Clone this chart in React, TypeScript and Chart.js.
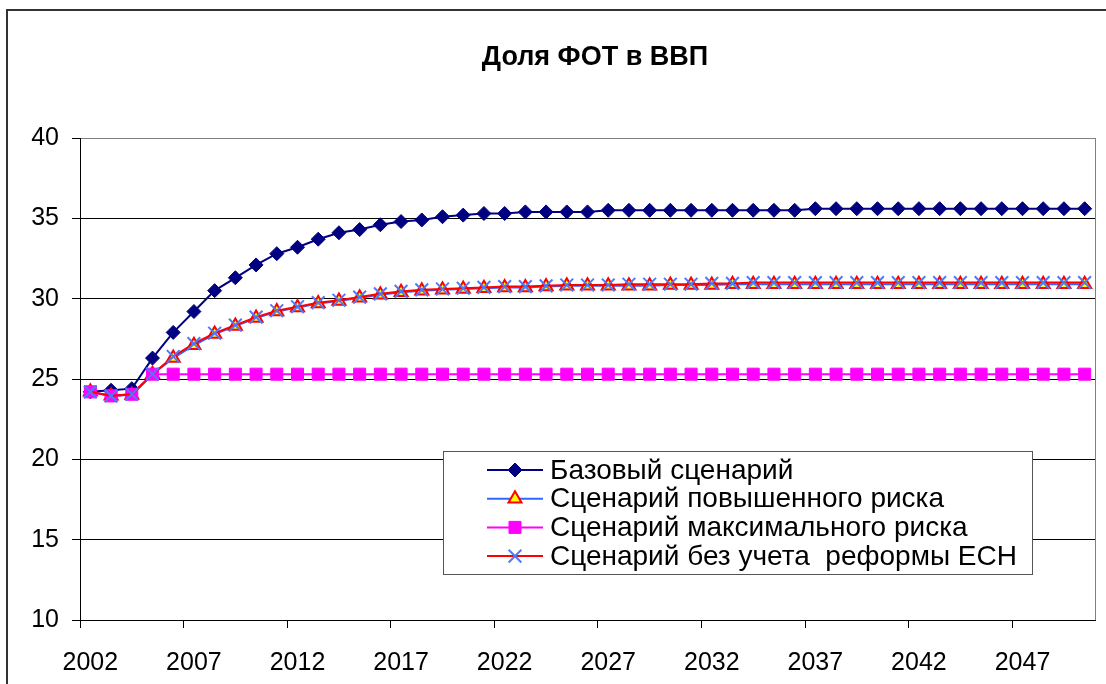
import React, { useEffect, useRef } from "react";
import { Chart, registerables } from "chart.js";

Chart.register(...registerables);

const TITLE = "Доля ФОТ в ВВП";

const YEARS = [
  "2002", "2003", "2004", "2005", "2006", "2007", "2008", "2009", "2010", "2011",
  "2012", "2013", "2014", "2015", "2016", "2017", "2018", "2019", "2020", "2021",
  "2022", "2023", "2024", "2025", "2026", "2027", "2028", "2029", "2030", "2031",
  "2032", "2033", "2034", "2035", "2036", "2037", "2038", "2039", "2040", "2041",
  "2042", "2043", "2044", "2045", "2046", "2047", "2048", "2049", "2050",
];

const SERIES_NAMES = [
  "Базовый сценарий",
  "Сценарий повышенного риска",
  "Сценарий максимального риска",
  "Сценарий без учета  реформы ЕСН",
];

const BASE = [
  24.2, 24.3, 24.4, 26.3, 27.9, 29.2, 30.5, 31.3, 32.1, 32.8,
  33.2, 33.7, 34.1, 34.3, 34.6, 34.8, 34.9, 35.1, 35.2, 35.3,
  35.3, 35.4, 35.4, 35.4, 35.4, 35.5, 35.5, 35.5, 35.5, 35.5,
  35.5, 35.5, 35.5, 35.5, 35.5, 35.6, 35.6, 35.6, 35.6, 35.6,
  35.6, 35.6, 35.6, 35.6, 35.6, 35.6, 35.6, 35.6, 35.6,
];

const HIGH_RISK = [
  24.2, 23.95, 24.0, 25.3, 26.3, 27.1, 27.8, 28.3, 28.8, 29.2,
  29.45, 29.7, 29.85, 30.05, 30.25, 30.4, 30.5, 30.55, 30.6, 30.65,
  30.7, 30.7, 30.75, 30.8, 30.8, 30.8, 30.8, 30.8, 30.85, 30.85,
  30.85, 30.9, 30.9, 30.9, 30.9, 30.9, 30.9, 30.9, 30.9, 30.9,
  30.9, 30.9, 30.9, 30.9, 30.9, 30.9, 30.9, 30.9, 30.9,
];

const MAX_RISK = [
  24.2, 23.95, 24.05, 25.3, 25.3, 25.3, 25.3, 25.3, 25.3, 25.3,
  25.3, 25.3, 25.3, 25.3, 25.3, 25.3, 25.3, 25.3, 25.3, 25.3,
  25.3, 25.3, 25.3, 25.3, 25.3, 25.3, 25.3, 25.3, 25.3, 25.3,
  25.3, 25.3, 25.3, 25.3, 25.3, 25.3, 25.3, 25.3, 25.3, 25.3,
  25.3, 25.3, 25.3, 25.3, 25.3, 25.3, 25.3, 25.3, 25.3,
];

const NO_REFORM = [
  24.2, 23.95, 24.05, 25.3, 26.4, 27.2, 27.85, 28.35, 28.85, 29.25,
  29.5, 29.75, 29.9, 30.1, 30.3, 30.45, 30.55, 30.6, 30.65, 30.7,
  30.75, 30.75, 30.8, 30.85, 30.85, 30.85, 30.9, 30.9, 30.9, 30.9,
  30.95, 30.95, 31.0, 31.0, 31.0, 31.0, 31.0, 31.0, 31.0, 31.0,
  31.0, 31.0, 31.0, 31.0, 31.0, 31.0, 31.0, 31.0, 31.0,
];

const Y_MIN = 10;
const Y_MAX = 40;
const Y_STEP = 5;
const LABEL_EVERY = 5;

const FONT = "'Liberation Sans', Arial, sans-serif";

function drawMarker(ctx: CanvasRenderingContext2D, ds: any, x: number, y: number) {
  const r = ds.pointRadius;
  ctx.save();
  ctx.fillStyle = ds.pointBackgroundColor;
  ctx.strokeStyle = ds.pointBorderColor;
  ctx.lineWidth = ds.pointBorderWidth;
  ctx.beginPath();
  if (ds.pointStyle === "rectRot") {
    ctx.moveTo(x - r, y);
    ctx.lineTo(x, y - r);
    ctx.lineTo(x + r, y);
    ctx.lineTo(x, y + r);
    ctx.closePath();
    ctx.fill();
    ctx.stroke();
  } else if (ds.pointStyle === "triangle") {
    const a = -Math.PI / 2;
    for (let k = 0; k < 3; k++) {
      const ang = a + (k * 2 * Math.PI) / 3;
      const px = x + Math.cos(ang) * r;
      const py = y + Math.sin(ang) * r;
      if (k === 0) ctx.moveTo(px, py);
      else ctx.lineTo(px, py);
    }
    ctx.closePath();
    ctx.fill();
    ctx.stroke();
  } else if (ds.pointStyle === "rect") {
    const s = r * Math.SQRT1_2;
    ctx.rect(x - s, y - s, 2 * s, 2 * s);
    ctx.fill();
    ctx.stroke();
  } else if (ds.pointStyle === "crossRot") {
    const s = r * Math.SQRT1_2;
    ctx.moveTo(x - s, y - s);
    ctx.lineTo(x + s, y + s);
    ctx.moveTo(x - s, y + s);
    ctx.lineTo(x + s, y - s);
    ctx.stroke();
  }
  ctx.restore();
}

const decorPlugin = {
  id: "decor",
  afterDraw(chart: any) {
    const ctx: CanvasRenderingContext2D = chart.ctx;
    const area = chart.chartArea;
    ctx.save();
    // outer chart border
    ctx.strokeStyle = "#333333";
    ctx.lineWidth = 2;
    ctx.beginPath();
    ctx.moveTo(7, chart.height);
    ctx.lineTo(7, 10);
    ctx.lineTo(chart.width, 10);
    ctx.stroke();

    // plot area right border
    ctx.strokeStyle = "#808080";
    ctx.lineWidth = 1;
    ctx.beginPath();
    ctx.moveTo(area.right + 0.5, area.top);
    ctx.lineTo(area.right + 0.5, area.bottom);
    ctx.stroke();

    // title
    ctx.fillStyle = "#000";
    ctx.font = `bold 27px ${FONT}`;
    ctx.textAlign = "center";
    ctx.textBaseline = "middle";
    ctx.fillText(TITLE, 595, 58);

    // legend
    const lx = area.left + 363;
    const ly = area.top + 313;
    const lw = 589;
    const lh = 123;
    ctx.fillStyle = "#ffffff";
    ctx.fillRect(lx, ly, lw, lh);
    ctx.strokeStyle = "#555555";
    ctx.lineWidth = 1;
    ctx.strokeRect(lx + 0.5, ly + 0.5, lw, lh);
    const rowH = 28.7;
    chart.data.datasets.forEach((ds: any, i: number) => {
      const cy = ly + 19 + i * rowH;
      ctx.strokeStyle = ds.borderColor;
      ctx.lineWidth = 2;
      ctx.beginPath();
      ctx.moveTo(lx + 44, cy);
      ctx.lineTo(lx + 100, cy);
      ctx.stroke();
      drawMarker(ctx, ds, lx + 72, cy);
      ctx.fillStyle = "#000";
      ctx.font = `28px ${FONT}`;
      ctx.textAlign = "left";
      ctx.textBaseline = "middle";
      ctx.fillText(ds.label, lx + 107, cy + 1);
    });
    ctx.restore();
  },
};

export default function App() {
  const canvasRef = useRef<HTMLCanvasElement | null>(null);

  useEffect(() => {
    if (!canvasRef.current) return;
    Chart.defaults.font.family = FONT;
    const chart = new Chart(canvasRef.current, {
      type: "line",
      data: {
        labels: YEARS,
        datasets: [
          {
            label: SERIES_NAMES[0],
            data: BASE,
            borderColor: "#000080",
            backgroundColor: "#000080",
            borderWidth: 2,
            pointStyle: "rectRot",
            pointRadius: 7,
            pointBackgroundColor: "#000080",
            pointBorderColor: "#000080",
            pointBorderWidth: 1,
            tension: 0,
            order: 4,
          },
          {
            label: SERIES_NAMES[1],
            data: HIGH_RISK,
            borderColor: "#3366FF",
            backgroundColor: "#FFFF00",
            borderWidth: 2,
            pointStyle: "triangle",
            pointRadius: 7.5,
            pointBackgroundColor: "#FFFF00",
            pointBorderColor: "#FF0000",
            pointBorderWidth: 2,
            tension: 0,
            order: 3,
          },
          {
            label: SERIES_NAMES[2],
            data: MAX_RISK,
            borderColor: "#FF00FF",
            backgroundColor: "#FF00FF",
            borderWidth: 2,
            pointStyle: "rect",
            pointRadius: 8.5,
            pointBackgroundColor: "#FF00FF",
            pointBorderColor: "#FF00FF",
            pointBorderWidth: 1,
            tension: 0,
            order: 2,
          },
          {
            label: SERIES_NAMES[3],
            data: NO_REFORM,
            borderColor: "#FF0000",
            backgroundColor: "#3366FF",
            borderWidth: 2,
            pointStyle: "crossRot",
            pointRadius: 9,
            pointBackgroundColor: "#3366FF",
            pointBorderColor: "#4D79FF",
            pointBorderWidth: 2,
            tension: 0,
            order: 1,
          },
        ],
      },
      options: {
        responsive: false,
        animation: false,
        layout: { padding: { top: 138, right: 7, left: 0, bottom: 0 } },
        plugins: {
          legend: { display: false },
          title: { display: false },
          tooltip: { enabled: false },
        },
        scales: {
          x: {
            type: "category",
            offset: true,
            afterFit: (scale: any) => {
              scale.height = 64;
            },
            grid: {
              offset: true,
              drawOnChartArea: false,
              drawTicks: true,
              tickLength: 8,
              color: (c: any) => (c.index % LABEL_EVERY === 0 ? "#000000" : "rgba(0,0,0,0)"),
            },
            border: { color: "#000000", width: 1 },
            ticks: {
              autoSkip: false,
              maxRotation: 0,
              minRotation: 0,
              padding: 20,
              color: "#000000",
              font: { size: 25, family: FONT },
              callback: (_v: any, i: number) => (i % LABEL_EVERY === 0 ? YEARS[i] : ""),
            },
          },
          y: {
            min: Y_MIN,
            max: Y_MAX,
            afterFit: (scale: any) => {
              scale.width = 80;
            },
            grid: {
              drawTicks: true,
              tickLength: 8,
              color: (c: any) => (c.tick && c.tick.value === Y_MAX ? "#808080" : "#000000"),
              tickColor: "#000000",
            },
            border: { color: "#000000", width: 1 },
            ticks: {
              stepSize: Y_STEP,
              padding: 13,
              color: "#000000",
              font: { size: 25, family: FONT },
            },
          },
        },
      },
      plugins: [decorPlugin],
    } as any);
    return () => chart.destroy();
  }, []);

  return (
    <div style={{ position: "fixed", left: 0, top: 0, width: 1106, height: 684, background: "#fff" }}>
      <canvas ref={canvasRef} width={1106} height={684} style={{ display: "block" }} />
    </div>
  );
}
